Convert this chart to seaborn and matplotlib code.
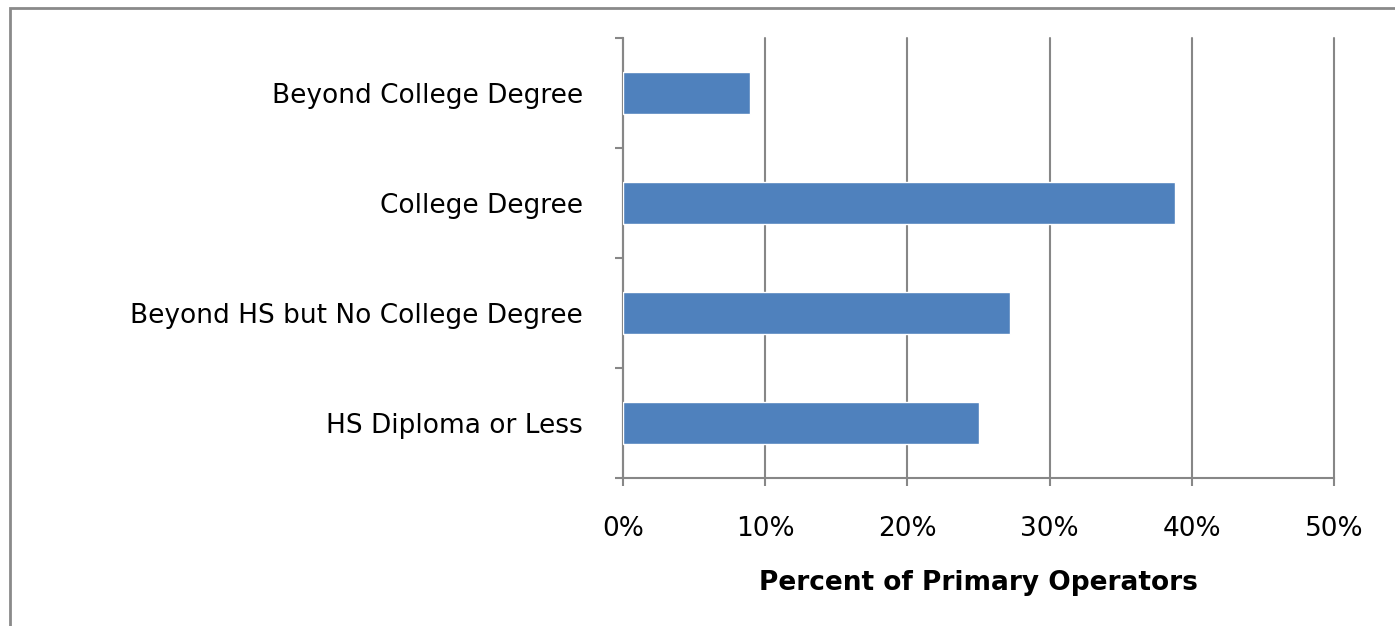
import matplotlib
matplotlib.use("Agg")
import matplotlib.pyplot as plt
import seaborn as sns
import pandas as pd
from matplotlib.patches import Rectangle
from matplotlib.ticker import FixedLocator, PercentFormatter

categories = ["Beyond College Degree", "College Degree",
              "Beyond HS but No College Degree", "HS Diploma or Less"]
values = [8.9, 38.8, 27.2, 25.0]
x_ticks = [0, 10, 20, 30, 40, 50]

sns.set_theme(style="white")
plt.rcParams['font.family'] = ['DejaVu Sans']

df = pd.DataFrame({"category": categories, "value": values})

fig = plt.figure(figsize=(13.95, 6.26), dpi=100)
ax = fig.add_axes([623/1395, 1 - 478/626, (1334 - 623)/1395, (478 - 38)/626])

grid_c = "#878787"
ax.set_axisbelow(True)
sns.barplot(data=df, x="value", y="category", order=categories, orient="h",
            color="#4F81BD", saturation=1, width=0.39, ax=ax, zorder=3)

ax.set_xlim(0, 50)
ax.set_ylim(len(categories) - 0.5, -0.5)
ax.set_xticks(x_ticks)
ax.xaxis.set_major_formatter(PercentFormatter(decimals=0))
ax.grid(axis="x", color=grid_c, linewidth=1.5)
ax.grid(axis="y", visible=False)
for gl in ax.get_xgridlines():
    gl.set_clip_on(False)

for s in ["top", "right"]:
    ax.spines[s].set_visible(False)
for s in ["left", "bottom"]:
    ax.spines[s].set_color(grid_c)
    ax.spines[s].set_linewidth(1.5)

ax.tick_params(axis="x", which="major", length=6, width=1.5, color=grid_c,
               direction="out", bottom=True, labelsize=19, pad=21.5, labelcolor="black")
ax.tick_params(axis="y", which="major", length=0, labelsize=19, pad=29, labelcolor="black")
ax.yaxis.set_minor_locator(FixedLocator([-0.5, 0.5, 1.5, 2.5, 3.5]))
ax.tick_params(axis="y", which="minor", length=6, width=1.5, color=grid_c,
               direction="out", left=True)

ax.set_ylabel("")
ax.set_xlabel("Percent of Primary Operators", fontsize=19, fontweight="bold",
              labelpad=20, color="black")

fig.patches.append(Rectangle((10/1395, -0.1), 1.2, 1 - 8/626 + 0.1,
                             transform=fig.transFigure, fill=False,
                             edgecolor="#8a8a8a", linewidth=2))

fig.savefig("out.png", dpi=100, facecolor="white")
